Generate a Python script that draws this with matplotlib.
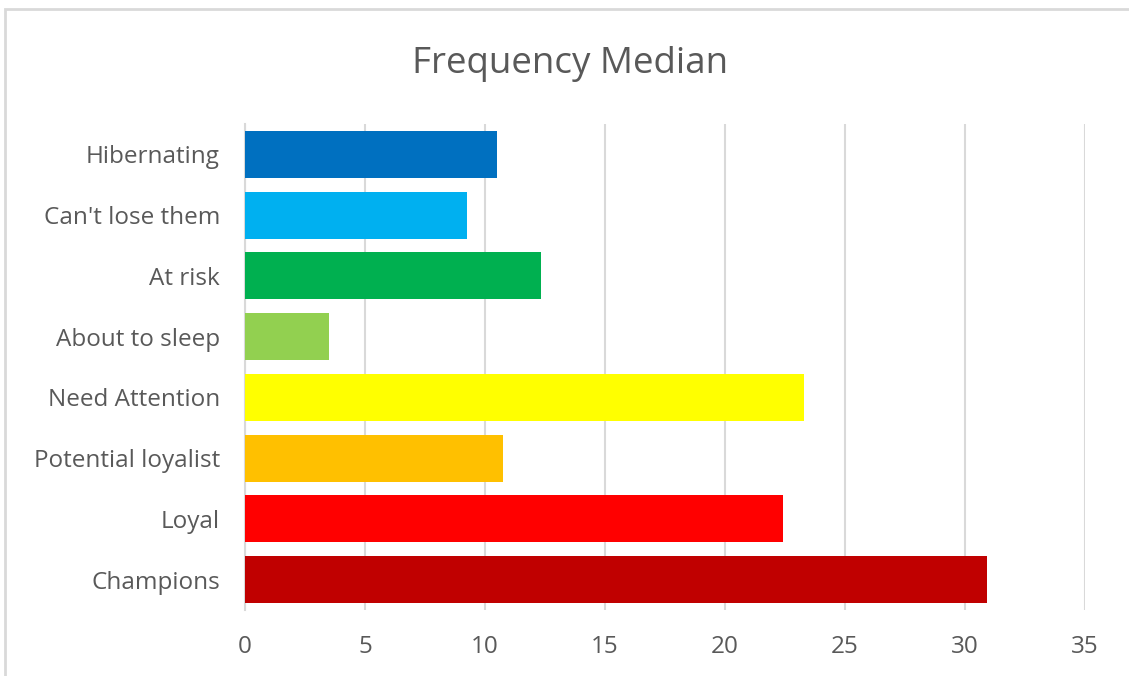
import matplotlib.pyplot as plt
from matplotlib.patches import Rectangle

segments = ["Hibernating", "Can't lose them", "At risk", "About to sleep",
            "Need Attention", "Potential loyalist", "Loyal", "Champions"]
freq_median = [10.5, 9.25, 12.33, 3.5, 23.3, 10.75, 22.4, 30.9]
colors = ["#0070C0", "#00B0F0", "#00B050", "#92D050",
          "#FFFF00", "#FFC000", "#FF0000", "#C00000"]
xticks = [0, 5, 10, 15, 20, 25, 30, 35]

text_color = "#595959"
grid_color = "#D9D9D9"
plt.rcParams['font.family'] = ['Open Sans', 'DejaVu Sans']

fig = plt.figure(figsize=(11.29, 6.76), dpi=100)
ax = fig.add_axes([0.217, 0.0976, 0.744, 0.719])

# chart area frame
fig.patches.append(Rectangle((0.0044, -0.1), 1.2, 1.0867, transform=fig.transFigure,
                             fill=False, edgecolor=grid_color, linewidth=2.0))

pos = list(range(len(segments)))
ax.barh(pos, freq_median, height=0.77, color=colors, zorder=3)
ax.set_yticks(pos)
ax.set_yticklabels(segments)
ax.set_ylim(len(segments) - 0.5, -0.5)

ax.set_xlim(0, 35)
ax.set_xticks(xticks)
ax.xaxis.grid(True, color=grid_color, linewidth=1.5, zorder=0)
for s in ["top", "right", "bottom"]:
    ax.spines[s].set_visible(False)
ax.spines["left"].set_color(grid_color)
ax.spines["left"].set_linewidth(1.5)
ax.tick_params(axis="both", length=0, labelsize=17.5, labelcolor=text_color)
ax.tick_params(axis="y", pad=18)
ax.tick_params(axis="x", pad=18)

fig.text(0.505, 0.905, "Frequency Median", ha="center", va="center",
         fontsize=26.5, color=text_color)

plt.savefig("out.png", dpi=100)
